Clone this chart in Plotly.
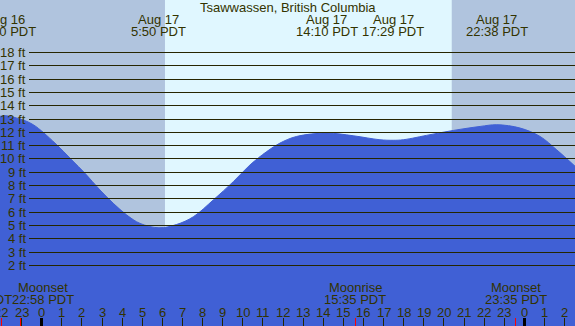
import plotly.graph_objects as go

W, H = 575, 326

# ---- data (hours relative to Aug 17 00:00 PDT) ----
tide_hours = [-2.07, -1.83, -1.08, -0.42, 0.66, 1.49, 2.15, 2.90, 3.56, 4.23, 4.89, 5.83,
              6.71, 7.54, 8.53, 9.53, 10.36, 11.19, 11.85, 12.68, 14.17, 15.49, 16.82,
              17.48, 17.98, 19.31, 20.47, 21.80, 22.63, 23.79, 24.78, 25.61, 26.52]
tide_ft = [13.2, 13.25, 13.0, 12.57, 11.19, 9.93, 8.92, 7.66, 6.66, 5.78, 5.15, 4.82,
           5.07, 5.65, 6.91, 8.29, 9.55, 10.55, 11.19, 11.69, 11.94, 11.74, 11.44,
           11.40, 11.44, 11.82, 12.14, 12.44, 12.57, 12.32, 11.69, 10.68, 9.45]

extreme_hours = [-1.83, 5.83, 14.17, 17.48, 22.63]
extreme_dates = ["Aug 16", "Aug 17", "Aug 17", "Aug 17", "Aug 17"]
extreme_times = ["22:10 PDT", "5:50 PDT", "14:10 PDT", "17:29 PDT", "22:38 PDT"]

sunrise_hour = 6.13
sunset_hour = 20.39

moon_hours = [-1.99, -1.03, 15.58, 23.58]
moon_events = ["", "Moonset", "Moonrise", "Moonset"]
moon_times = ["21:59 PDT", "22:58 PDT", "15:35 PDT", "23:35 PDT"]

ft_levels = list(range(2, 19))
hour_ticks = list(range(-2, 27))

title = "Tsawwassen, British Columbia"

# ---- styling ----
NIGHT = "#B0C4DE"
DAY = "#E0F7FF"
WATER = "#4060D5"
INK = "#333300"
LINE = "#262600"
FONT = "Liberation Sans"

x0_px, px_per_h = 41.7, 20.11
xr = [(0 - x0_px) / px_per_h, (W - x0_px) / px_per_h]
y18_px, px_per_ft = 52.5, 13.3
yr = [18 - (H - y18_px) / px_per_ft, 18 + y18_px / px_per_ft]


def py(px):
    return 1 - px / H


def snap_y(v):
    # pixel-centre of the row that value v falls on (for crisp 1px rules)
    px = y18_px + (18 - v) * px_per_ft
    return 1 - (int(px) + 0.5) / H


def snap_x(h, odd=True):
    px = x0_px + h * px_per_h
    return ((int(round(px - 0.5)) + 0.5) if odd else round(px)) / W


fig = go.Figure()
fig.add_trace(go.Scatter(x=[xr[0] - 1, xr[1] + 1], y=[yr[0] - 1, yr[0] - 1], mode="lines",
                         line=dict(width=0), hoverinfo="skip", showlegend=False))
fig.add_trace(go.Scatter(x=tide_hours, y=tide_ft, mode="lines", line=dict(color=WATER, width=1, shape="spline"),
                         fill="tonexty", fillcolor=WATER, hoverinfo="skip", showlegend=False))

shapes = []
shapes.append(dict(type="rect", xref="x", yref="paper", x0=sunrise_hour, x1=sunset_hour, y0=0, y1=1,
                   fillcolor=DAY, line=dict(width=0), layer="below"))
for v in ft_levels:
    yy = snap_y(v)
    shapes.append(dict(type="line", xref="paper", yref="paper", x0=29 / W, x1=1, y0=yy, y1=yy,
                       line=dict(color=LINE, width=1), layer="above"))
for h in hour_ticks:
    mid = (h % 24 == 0)
    xx = snap_x(h)
    shapes.append(dict(type="line", xref="paper", yref="paper", x0=xx, x1=xx, y0=py(318), y1=0,
                       line=dict(color="#000000" if mid else LINE, width=3 if mid else 1), layer="above"))
for h in moon_hours:
    xx = snap_x(h)
    shapes.append(dict(type="line", xref="paper", yref="paper", x0=xx, x1=xx, y0=py(318), y1=0,
                       line=dict(color="#FF0000", width=1), layer="above"))

ann = []
tf = dict(family=FONT, size=13, color=INK)
ann.append(dict(text=title, xref="paper", yref="paper", x=0.5, y=py(7.5), showarrow=False,
                font=tf, xanchor="center", yanchor="middle"))
for h, d, t in zip(extreme_hours, extreme_dates, extreme_times):
    ann.append(dict(text=d, xref="x", yref="paper", x=h, y=py(19), showarrow=False, font=tf,
                    xanchor="center", yanchor="middle"))
    ann.append(dict(text=t, xref="x", yref="paper", x=h, y=py(31.5), showarrow=False, font=tf,
                    xanchor="center", yanchor="middle"))
for v in ft_levels:
    ann.append(dict(text=f"{v} ft", xref="paper", yref="paper", x=27.5 / W, y=snap_y(v), showarrow=False,
                    font=tf, xanchor="right", yanchor="middle"))
for h in hour_ticks:
    ann.append(dict(text=str(h % 24), xref="x", yref="paper", x=h, y=py(312), showarrow=False, font=tf,
                    xanchor="center", yanchor="middle"))
for i, (h, e, t) in enumerate(zip(moon_hours, moon_events, moon_times)):
    if i == 0:
        ann.append(dict(text=t, xref="paper", yref="paper", x=13.5 / W, y=py(299), showarrow=False,
                        font=tf, xanchor="right", yanchor="middle"))
        continue
    shift = 22 if i == 1 else 0
    ann.append(dict(text=e, xref="x", yref="paper", x=h, y=py(287.5), xshift=shift, showarrow=False,
                    font=tf, xanchor="center", yanchor="middle"))
    ann.append(dict(text=t, xref="x", yref="paper", x=h, y=py(299), xshift=shift, showarrow=False,
                    font=tf, xanchor="center", yanchor="middle"))

fig.update_layout(
    width=W, height=H, margin=dict(l=0, r=0, t=0, b=0),
    paper_bgcolor=NIGHT, plot_bgcolor=NIGHT,
    xaxis=dict(range=xr, visible=False, fixedrange=True),
    yaxis=dict(range=yr, visible=False, fixedrange=True),
    shapes=shapes, annotations=ann, showlegend=False,
)
fig.write_html("out.html", config={"displayModeBar": False},
               post_script="document.body.style.margin='0';document.body.style.padding='0';"
                           "document.body.style.overflow='hidden';")
